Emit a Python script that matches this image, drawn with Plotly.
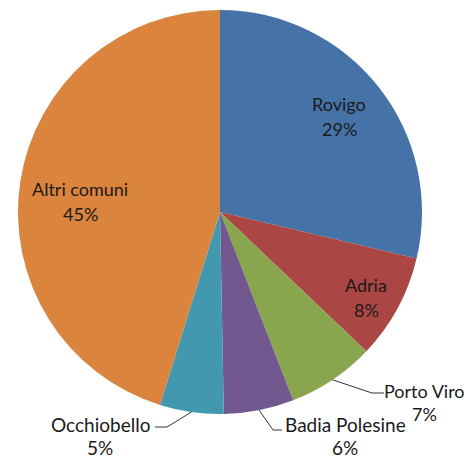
import math
import plotly.graph_objects as go

# comuni della provincia di Rovigo - quote percentuali
comuni = ["Rovigo", "Adria", "Porto Viro", "Badia Polesine", "Occhiobello", "Altri comuni"]
quote = [28.7, 8.4, 7.0, 5.6, 5.1, 45.2]
colori = ["#4572A7", "#AA4643", "#89A54E", "#71588F", "#4198AF", "#DB843D"]

W, H = 472, 456
OFF = 8  # page body margin in the browser
CX, CY, R = 220 - OFF, 212 - OFF, 202  # pie centre / radius in figure px
FONT = "Lato"

fig = go.Figure(
    go.Pie(
        labels=comuni,
        values=quote,
        marker=dict(colors=colori, line=dict(width=0)),
        sort=False,
        direction="clockwise",
        rotation=0,
        textinfo="none",
        hoverinfo="label+percent",
        showlegend=False,
        domain=dict(x=[(CX - R) / W, (CX + R) / W], y=[1 - (CY + R) / H, 1 - (CY - R) / H]),
    )
)

tot = sum(quote)
perc = [round(v / tot * 100) for v in quote]


def px(x, y):
    # screen px -> paper coords
    return (x - OFF) / W, 1 - (y - OFF) / H


def add_label(i, x, y, gap=25, size=18):
    # two lines of text, name and percentage
    for txt, yy in ((comuni[i], y), (f"{perc[i]}%", y + gap)):
        p = px(x, yy)
        fig.add_annotation(x=p[0], y=p[1], text=txt, showarrow=False,
                           xref="paper", yref="paper", xanchor="center", yanchor="middle",
                           font=dict(family=FONT, size=size, color="#1a1a1a"))


# inside labels
add_label(0, 339, 104)
add_label(1, 366, 285)
add_label(5, 80, 189)

# outside labels with leader lines
cum = 0
mids = []
for v in quote:
    mids.append((cum + v / 2) / tot * 2 * math.pi)
    cum += v

outside = {2: ((372, 393), (384, 393), (424, 391), 18),
           3: ((273, 430), (282, 430), (345, 424), 19),
           4: ((167, 427), (155, 427), (100, 424), 19)}
for i, (elbow, end, lab, fs) in outside.items():
    sx = CX + OFF + R * math.sin(mids[i])
    sy = CY + OFF - R * math.cos(mids[i])
    p0, p1, p2 = px(sx, sy), px(*elbow), px(*end)
    fig.add_shape(type="path", xref="paper", yref="paper",
                  path=f"M {p0[0]} {p0[1]} L {p1[0]} {p1[1]} L {p2[0]} {p2[1]}",
                  line=dict(color="#333333", width=1))
    add_label(i, lab[0], lab[1], gap=23, size=fs)

fig.update_layout(
    width=W, height=H,
    margin=dict(l=0, r=0, t=0, b=0),
    paper_bgcolor="white",
    plot_bgcolor="white",
)

fig.write_html("out.html")
